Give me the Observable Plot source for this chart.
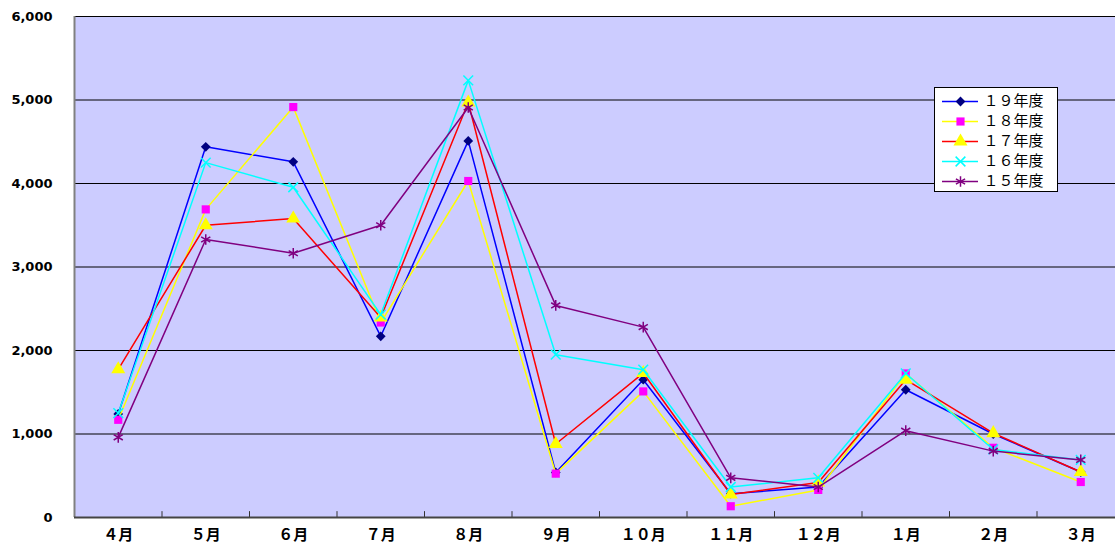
<!DOCTYPE html>
<html><head><meta charset="utf-8">
<script src="https://cdn.jsdelivr.net/npm/d3@7"></script>
<script src="https://cdn.jsdelivr.net/npm/@observablehq/plot@0.6"></script>
<style>
body{margin:0;background:#fff;}
#wrap{position:relative;width:1115px;height:545px;}
#legend{position:absolute;left:934px;top:87px;}
</style></head>
<body><div id="wrap"><div id="chart"></div><div id="legend"></div></div>
<script>
const months = ["４月","５月","６月","７月","８月","９月","１０月","１１月","１２月","１月","２月","３月"];
const seriesNames = ["１９年度","１８年度","１７年度","１６年度","１５年度"];
const y19 = [1240, 4440, 4260, 2170, 4510, 540, 1650, 285, 365, 1530, 1000, 545];
const y18 = [1170, 3690, 4915, 2335, 4030, 525, 1510, 135, 330, 1725, 835, 425];
const y17 = [1775, 3500, 3580, 2395, 4970, 880, 1730, 275, 420, 1650, 1010, 545];
const y16 = [1250, 4250, 3955, 2430, 5235, 1950, 1770, 365, 475, 1725, 815, 690];
const y15 = [960, 3330, 3165, 3500, 4910, 2540, 2280, 475, 365, 1040, 795, 690];
const yTicks = [0, 1000, 2000, 3000, 4000, 5000, 6000];

const lineColors = ["#0000FF", "#FFFF00", "#FF0000", "#00FFFF", "#800080"];
const markColors = ["#000080", "#FF00FF", "#FFFF00", "#00FFFF", "#800080"];
const symbols = ["diamond2", "square", "triangle", "times", "asterisk"];
const sizes = [4.4, 4.6, 5.2, 4.5, 5];
const allValues = [y19, y18, y17, y16, y15];

function dotOpts(s, base) {
  const stroked = symbols[s] === "times" || symbols[s] === "asterisk";
  return stroked
    ? {...base, symbol: () => symbols[s], r: sizes[s], stroke: markColors[s], strokeWidth: 1.5}
    : {...base, symbol: () => symbols[s], r: sizes[s], fill: markColors[s], stroke: "none"};
}

const seriesMarks = [];
allValues.forEach((vals, s) => {
  const data = vals.map((v, i) => ({i: i + 0.5, v}));
  seriesMarks.push(Plot.line(data, {x: "i", y: "v", stroke: lineColors[s], strokeWidth: 1.5}));
  seriesMarks.push(Plot.dot(data, dotOpts(s, {x: "i", y: "v"})));
});

const chart = Plot.plot({
  width: 1115, height: 545,
  marginLeft: 74, marginTop: 16, marginBottom: 28, marginRight: 0,
  x: {type: "linear", domain: [0, 12], range: [74, 1124]},
  y: {domain: [0, 6000], range: [517, 16]},
  symbol: {type: "identity"},
  style: {fontFamily: "'DejaVu Sans', sans-serif", background: "#fff", overflow: "hidden"},
  marks: [
    Plot.frame({fill: "#CCCCFF", stroke: null}),
    Plot.ruleY(yTicks.slice(1), {stroke: "#000", strokeWidth: 1}),
    Plot.ruleX(d3.range(1, 12), {y1: 0, y2: 70, stroke: "#333", strokeWidth: 1}),
    Plot.ruleX([0], {stroke: "#808080", strokeWidth: 2}),
    Plot.ruleY([0], {stroke: "#444", strokeWidth: 2}),
    ...seriesMarks,
    Plot.axisY(yTicks, {tickSize: 0, tickPadding: 22, tickFormat: d3.format(","), fontSize: 13, fontWeight: "bold", fill: "#000", label: null}),
    Plot.axisX(d3.range(12).map(i => i + 0.5), {tickSize: 0, tickPadding: 12, tickFormat: d => months[Math.floor(d)], fontSize: 15, fontWeight: "bold", fontFamily: "'Noto Sans CJK JP', sans-serif", fill: "#000", label: null})
  ]
});
document.getElementById("chart").appendChild(chart);

// legend
const legendData = seriesNames.map((name, s) => ({name, s}));
const legend = Plot.plot({
  width: 123, height: 104,
  margin: 0,
  x: {domain: [0, 123], range: [0, 123], axis: null},
  y: {type: "point", domain: seriesNames, range: [13, 95], padding: 0, axis: null},
  symbol: {type: "identity"},
  style: {background: "transparent", overflow: "visible"},
  marks: [
    Plot.frame({fill: "#fff", stroke: "#000", strokeWidth: 1}),
    ...legendData.map(d => Plot.ruleY([d.name], {x1: 8, x2: 44, stroke: lineColors[d.s], strokeWidth: 1.5})),
    ...legendData.map(d => Plot.dot([d], dotOpts(d.s, {x: () => 26, y: "name"}))),
    Plot.text(legendData, {x: () => 49, y: "name", text: "name", textAnchor: "start", fontSize: 15, fontFamily: "'Noto Sans CJK JP', sans-serif", fill: "#000"})
  ]
});
document.getElementById("legend").appendChild(legend);
</script>
</body></html>
